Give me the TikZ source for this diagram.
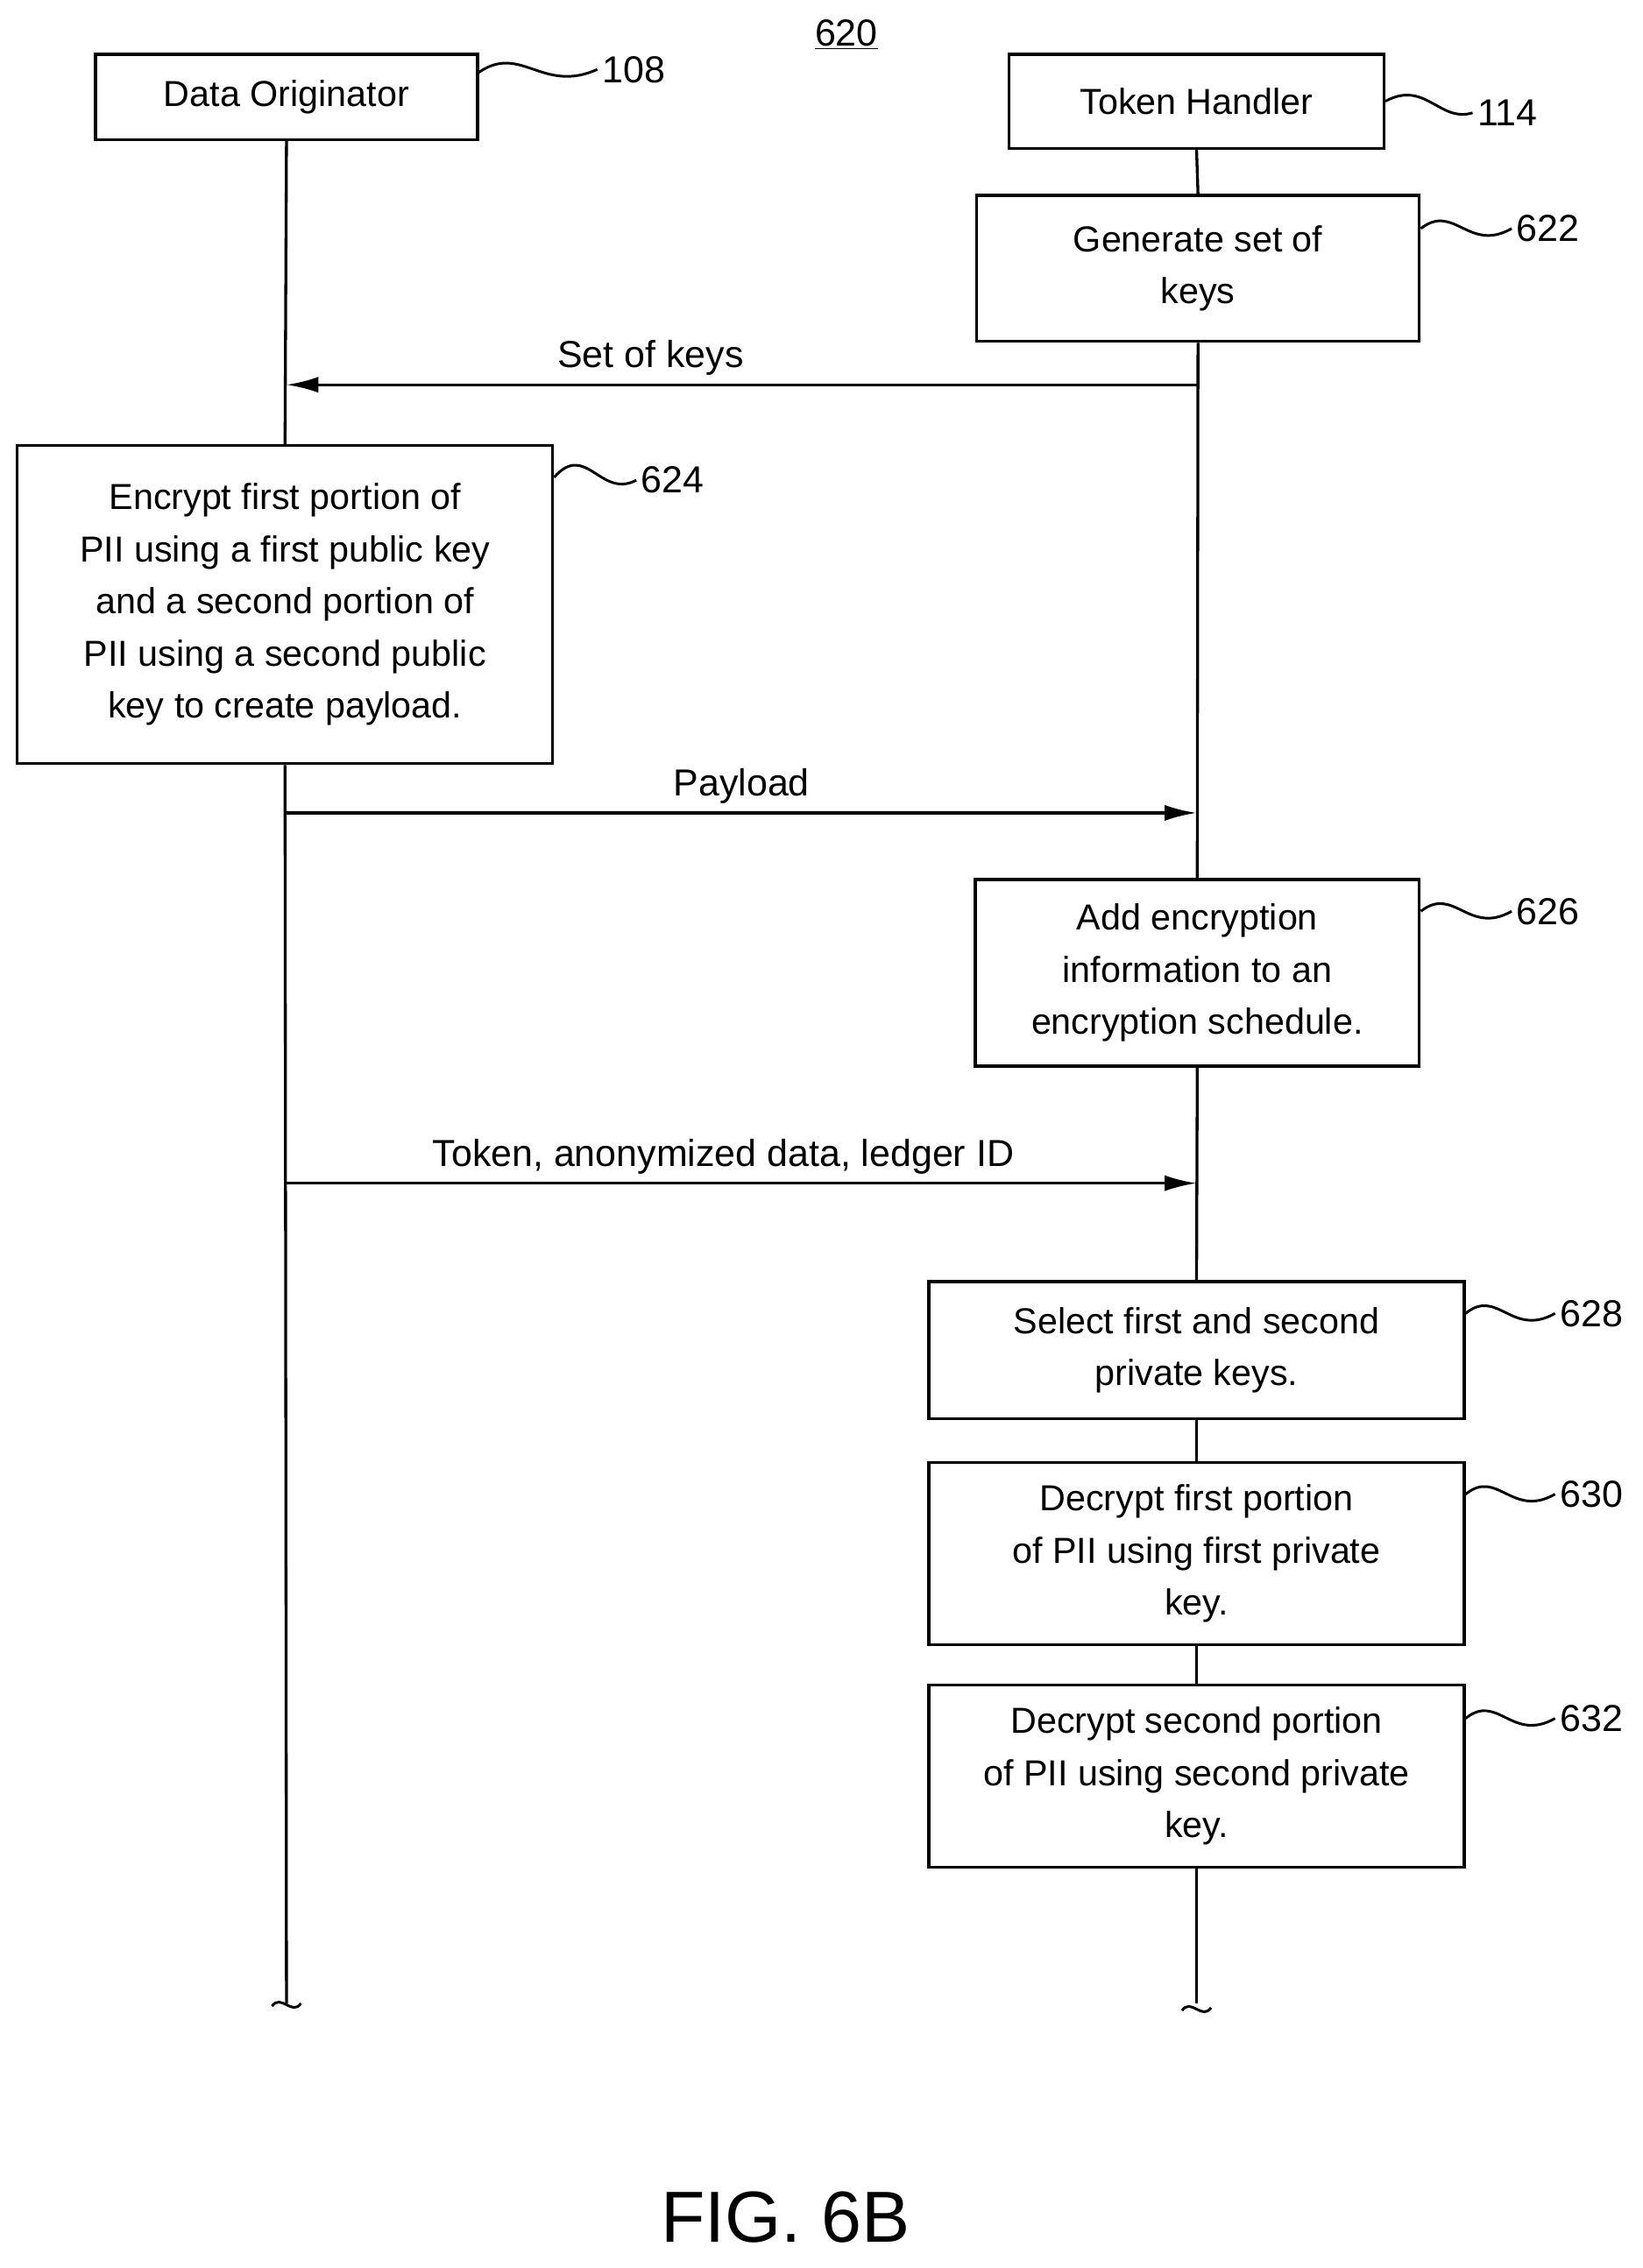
\documentclass[tikz,border=0pt]{standalone}
\usepackage{fontspec}
\setmainfont{Liberation Sans}
\usetikzlibrary{arrows.meta}
\begin{document}
\begin{tikzpicture}[x=1pt,y=-1pt,
  box/.style={draw,line width=2pt,align=center,inner sep=0pt,font=\fontsize{25}{36}\selectfont},
  lbl/.style={font=\fontsize{26}{30}\selectfont},
  line/.style={line width=2pt},
  msg/.style={line width=2pt,-{Latex[length=22pt,width=11pt]}},
  lead/.style={line width=1.8pt}]
\useasboundingbox (0,0) rectangle (1135,1568);
\node[lbl] (t620) at (585,24) {\underline{620}};
% actors
\node[box,minimum width=264pt,minimum height=59pt] (do) at (198,67) {Data Originator};
\node[box,minimum width=259pt,minimum height=65pt] (th) at (827,70) {Token Handler};
\node[lbl] (l108) at (438,48) {108};
\node[lbl] (l114) at (1042,78) {114};
\draw[lead] (do.east|-0,50) .. controls (360,30) and (375,65) .. (l108.west);
\draw[lead] (th.east|-0,70) .. controls (985,55) and (995,85) .. (l114.west);
% boxes
\node[box,minimum width=306pt,minimum height=101pt] (b622) at (828,185.5) {Generate set of\\keys};
\node[lbl] (l622) at (1070,158) {622};
\node[box,minimum width=370pt,minimum height=220pt] (b624) at (197,418) {Encrypt first portion of\\PII using a first public key\\and a second portion of\\PII using a second public\\key to create payload.};
\node[lbl] (l624) at (465,332) {624};
\node[box,minimum width=307pt,minimum height=129pt] (b626) at (827.5,672.5) {Add encryption\\information to an\\encryption schedule.};
\node[lbl] (l626) at (1070,630) {626};
\node[box,minimum width=370pt,minimum height=95pt] (b628) at (827,933.5) {Select first and second\\private keys.};
\node[lbl] (l628) at (1100,908) {628};
\node[box,minimum width=370pt,minimum height=126pt] (b630) at (827,1074) {Decrypt first portion\\of PII using first private\\key.};
\node[lbl] (l630) at (1100,1033) {630};
\node[box,minimum width=370pt,minimum height=126pt] (b632) at (827,1228) {Decrypt second portion\\of PII using second private\\key.};
\node[lbl] (l632) at (1100,1188) {632};
\draw[lead] (b622.east|-0,158) .. controls (1005,140) and (1015,175) .. (l622.west);
\draw[lead] (b624.east|-0,330) .. controls (405,305) and (415,345) .. (l624.west);
\draw[lead] (b626.east|-0,630) .. controls (1005,612) and (1015,647) .. (l626.west);
\draw[lead] (b628.east|-0,908) .. controls (1035,890) and (1045,925) .. (l628.west);
\draw[lead] (b630.east|-0,1033) .. controls (1035,1015) and (1045,1050) .. (l630.west);
\draw[lead] (b632.east|-0,1188) .. controls (1035,1170) and (1045,1205) .. (l632.west);
% lifelines
\coordinate (e1) at (198,1385);
\coordinate (e2) at (827,1385);
\draw[line] (do.south) -- (b624.north);
\draw[line] (b624.south) -- (e1);
\draw[line] (th.south) -- (b622.north);
\draw[line] (b622.south) -- (b626.north);
\draw[line] (b626.south) -- (b628.north);
\draw[line] (b628.south) -- (b630.north);
\draw[line] (b630.south) -- (b632.north);
\draw[line] (b632.south) -- (e2);
\draw[lead] (188,1387) .. controls (194,1378) and (202,1394) .. (208,1385);
\draw[lead] (817,1390) .. controls (823,1381) and (831,1397) .. (837,1388);
% messages
\coordinate (k1) at (827,266); \coordinate (k2) at (198,266);
\draw[msg] (k1) -- node[lbl,above=2pt,pos=0.6]{Set of keys} (k2);
\coordinate (p1) at (198,562); \coordinate (p2) at (827,562);
\draw[msg] (p1) -- node[lbl,above=2pt]{Payload} (p2);
\coordinate (q1) at (198,818); \coordinate (q2) at (827,818);
\draw[msg] (q1) -- node[lbl,above=2pt,pos=0.48]{Token, anonymized data, ledger ID} (q2);
\node[font=\fontsize{50}{56}\selectfont] (fig) at (543,1533) {FIG. 6B};
\end{tikzpicture}
\end{document}
